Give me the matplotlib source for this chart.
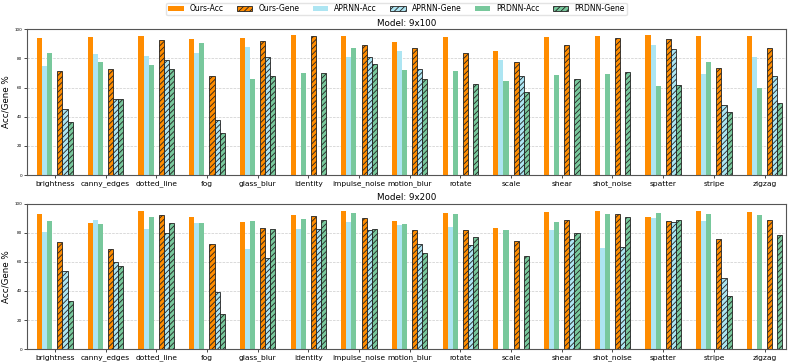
import matplotlib.pyplot as plt
import numpy as np

categories = ['brightness', 'canny_edges', 'dotted_line', 'fog', 'glass_blur', 'identity',
              'impulse_noise', 'motion_blur', 'rotate', 'scale', 'shear', 'shot_noise',
              'spatter', 'stripe', 'zigzag']

# Model 9x100 (NaN = no bar)
ours_acc_100 = [93.8, 94.3, 95.6, 93.3, 94.0, 95.9, 95.6, 91.3, 94.7, 85.3, 94.3, 95.6, 96.1, 95.2, 95.0]
aprnn_acc_100 = [74.8, 83.0, 81.7, 83.9, 87.6, np.nan, 81.2, 85.1, np.nan, 78.7, np.nan, np.nan, 89.0, 69.3, 80.7]
prdnn_acc_100 = [83.5, 77.8, 75.5, 90.8, 65.6, 70.0, 86.9, 71.8, 71.1, 64.4, 68.8, 69.3, 60.8, 77.3, 59.4]
ours_gene_100 = [71.6, 72.5, 92.7, 68.1, 91.7, 95.4, 89.2, 86.9, 83.5, 77.5, 89.2, 93.8, 93.1, 73.4, 86.9]
aprnn_gene_100 = [45.6, 52.0, 78.9, 37.6, 81.0, np.nan, 81.0, 72.5, np.nan, 67.7, np.nan, np.nan, 86.2, 47.7, 67.7]
prdnn_gene_100 = [36.7, 52.0, 72.9, 29.1, 68.1, 70.0, 75.9, 65.6, 62.4, 56.9, 65.6, 70.6, 61.7, 42.9, 49.3]

# Model 9x200
ours_acc_200 = [93.3, 87.0, 95.0, 91.0, 87.5, 92.0, 95.2, 88.1, 93.8, 83.3, 94.5, 95.0, 91.1, 95.0, 94.5]
aprnn_acc_200 = [80.3, 89.2, 82.8, 87.0, 69.0, 83.0, 87.2, 85.3, 84.2, np.nan, 82.1, 69.5, 90.4, 88.5, np.nan]
prdnn_acc_200 = [88.1, 85.8, 90.8, 87.0, 88.3, 89.7, 93.6, 85.8, 92.9, 81.7, 87.4, 93.1, 93.6, 93.1, 92.4]
ours_gene_200 = [73.9, 69.0, 92.5, 72.5, 83.5, 91.7, 90.2, 81.9, 82.1, 74.1, 89.2, 93.1, 88.5, 75.9, 88.8]
aprnn_gene_200 = [53.9, 60.0, 80.0, 39.5, 62.8, 82.8, 81.7, 72.2, 71.6, np.nan, 75.7, 70.2, 87.6, 49.1, np.nan]
prdnn_gene_200 = [33.3, 57.3, 87.0, 24.0, 82.8, 89.2, 82.8, 66.3, 77.1, 64.0, 80.0, 91.1, 88.8, 36.7, 78.4]

c_ours = '#ff8c00'
c_aprnn = '#ade5f2'
c_prdnn = '#78c89c'

plt.rcParams['hatch.linewidth'] = 0.6

fig = plt.figure(figsize=(7.93, 3.64), dpi=100)
ax1 = fig.add_axes([0.034, 0.519, 0.957, 0.401])
ax2 = fig.add_axes([0.034, 0.041, 0.957, 0.399])

x = np.arange(len(categories))
w = 0.1


def draw(ax, title, oa, aa, pa, og, ag, pg):
    ax.bar(x - 3 * w, oa, w, color=c_ours, label='Ours-Acc')
    ax.bar(x + 1 * w, og, w, color=c_ours, hatch='//////', edgecolor='#222222', linewidth=0.6, label='Ours-Gene')
    ax.bar(x - 2 * w, aa, w, color=c_aprnn, label='APRNN-Acc')
    ax.bar(x + 2 * w, ag, w, color=c_aprnn, hatch='//////', edgecolor='#222222', linewidth=0.6, label='APRNN-Gene')
    ax.bar(x - 1 * w, pa, w, color=c_prdnn, label='PRDNN-Acc')
    ax.bar(x + 3 * w, pg, w, color=c_prdnn, hatch='//////', edgecolor='#222222', linewidth=0.6, label='PRDNN-Gene')
    ax.set_xlim(-0.55, 14.42)
    ax.set_ylim(0, 100)
    ax.set_yticks([0, 20, 40, 60, 80, 100])
    ax.set_xticks(x)
    ax.set_xticklabels(categories, fontsize=5.4)
    ax.tick_params(axis='y', labelsize=3, length=2, width=0.5, pad=1.5)
    ax.tick_params(axis='x', length=2, width=0.5, pad=2)
    ax.set_ylabel('Acc/Gene %', fontsize=6.3, labelpad=3)
    ax.set_title(title, fontsize=6.3, pad=2.5)
    ax.grid(axis='y', linestyle='--', linewidth=0.5, color='#cccccc')
    ax.set_axisbelow(True)
    for s in ax.spines.values():
        s.set_linewidth(0.8)
        s.set_color('#555555')


draw(ax1, 'Model: 9x100', ours_acc_100, aprnn_acc_100, prdnn_acc_100,
     ours_gene_100, aprnn_gene_100, prdnn_gene_100)
draw(ax2, 'Model: 9x200', ours_acc_200, aprnn_acc_200, prdnn_acc_200,
     ours_gene_200, aprnn_gene_200, prdnn_gene_200)

handles, labels = ax1.get_legend_handles_labels()
fig.legend(handles, labels, loc='upper center', bbox_to_anchor=(0.5, 0.993), ncol=6,
           fontsize=5.5, frameon=True, handlelength=2.0, handleheight=0.6, handletextpad=0.8,
           columnspacing=1.75, borderpad=0.25, borderaxespad=0.0, edgecolor='#dddddd', fancybox=True)

fig.savefig('out.png', dpi=100)
